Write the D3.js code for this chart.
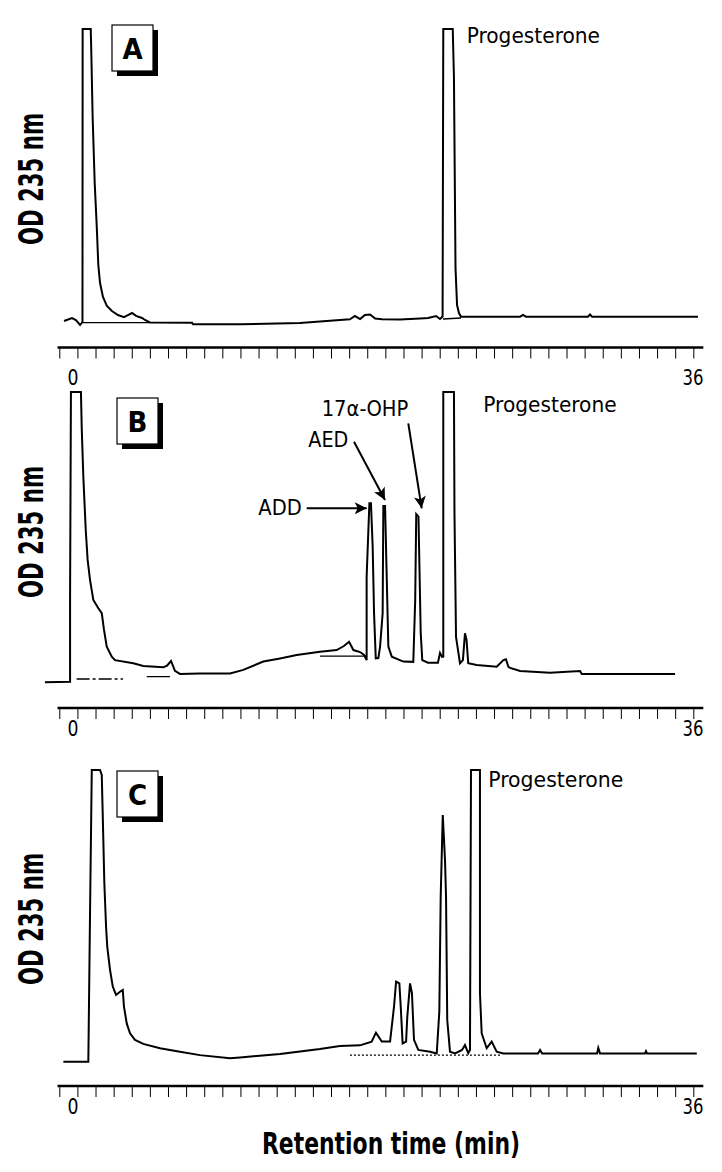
<!DOCTYPE html>
<html><head><meta charset="utf-8">
<script src="https://cdn.jsdelivr.net/npm/d3@7"></script>
<style>body{margin:0;background:#fff}svg{display:block}</style>
</head><body><svg id="c" width="722" height="1172"></svg>
<script>
// ---------- DATA (retention time in min, OD as % of full scale) ----------
const traceA = [[-0.52,-0.34],[-0.06,0.69],[0.17,0],[0.41,-1.72],[0.55,-0.69],[0.56,100],[1.03,100],[1.06,92.8],[1.14,69.8],[1.26,47.1],[1.38,32.0],[1.47,18.9],[1.57,12.7],[1.74,7.9],[1.97,4.8],[2.26,3.1],[2.61,1.7],[2.96,1.0],[3.19,1.7],[3.43,2.4],[3.66,1.4],[4.01,0.7],[4.18,0],[4.47,-0.86],[6.91,-0.93],[6.97,-1.48],[9.70,-1.48],[13.18,-1.03],[15.50,0],[16.08,0.24],[16.37,1.37],[16.67,0.34],[16.95,1.72],[17.25,1.89],[17.54,0.52],[17.94,0.24],[18.99,0.17],[20.15,0.52],[20.62,0.69],[21.08,1.37],[21.31,0.34],[21.46,1.2],[21.50,100],[22.05,100],[22.12,83.2],[22.21,17.9],[22.30,5.15],[22.41,2.4],[22.53,1.13],[25.96,1.13],[26.13,1.72],[26.30,1.13],[29.90,1.13],[30.02,1.89],[30.14,1.13],[36.29,1.13]];
const blankA = [[0.55,-0.93],[4.47,-0.93],null,[21.48,0.34],[22.53,0.69]];

const traceB = [[-1.63,-0.8],[-0.17,-0.6],[-0.17,28.9],[-0.12,100],[0.46,100],[0.51,86.8],[0.60,70.6],[0.74,52.1],[0.85,41.7],[0.99,34.7],[1.18,27.8],[1.47,24.9],[1.67,23.2],[1.80,17.4],[1.96,11.6],[2.25,8.1],[2.44,6.9],[3.50,5.8],[4.08,4.9],[5.24,4.4],[5.46,5.0],[5.69,6.6],[5.92,3.2],[6.21,2.1],[7.37,2.3],[9.12,2.3],[9.89,3.5],[11.05,6.4],[12.02,7.5],[12.99,8.7],[14.34,9.8],[15.31,10.4],[15.73,11.8],[16.03,13.3],[16.28,10.4],[16.67,9.7],[16.90,8.7],[17.05,6.9],[17.05,35.9],[17.21,61.4],[17.30,61.4],[17.40,46.3],[17.48,23.3],[17.58,7.5],[17.73,7.6],[17.83,11.6],[17.98,23.2],[18.02,60.4],[18.12,60.4],[18.22,34.7],[18.31,11.6],[18.51,8.1],[19.18,6.4],[19.76,6.3],[19.87,27.8],[19.93,57.6],[20.06,56.7],[20.19,16.3],[20.28,6.9],[20.61,6.0],[21.19,6.0],[21.31,9.4],[21.43,8.0],[21.50,8.1],[21.50,100],[22.12,100],[22.15,57.9],[22.24,15.0],[22.47,5.8],[22.64,6.9],[22.76,16.2],[22.85,13.9],[22.95,5.8],[23.44,5.2],[24.60,4.6],[24.99,6.9],[25.14,7.2],[25.28,4.6],[25.38,4.2],[25.96,3.1],[27.70,2.5],[29.44,3.1],[29.54,2.1],[34.96,2.1]];
const blankB = [[0.21,0.35],[2.90,0.35]];
const blankB2 = [[4.28,1.15],[5.63,1.15],null,[14.34,8.3],[17.05,8.3]];

const traceC = [[-0.56,-1.3],[0.89,-1.3],[0.99,50.8],[1.09,100],[1.57,100],[1.67,98.3],[1.72,86.1],[1.82,60.7],[1.92,45.6],[1.99,38.6],[2.15,30.6],[2.31,24.8],[2.50,21.9],[2.73,23.0],[2.89,23.6],[2.96,17.8],[3.12,12.0],[3.31,8.6],[3.60,6.3],[4.08,4.9],[5.05,3.4],[6.21,2.2],[7.37,1.0],[9.12,-0.1],[9.70,0.2],[12.02,1.4],[14.34,3.1],[15.50,4.2],[16.67,4.4],[17.34,5.7],[17.59,8.8],[17.93,5.7],[18.41,5.7],[18.64,17.8],[18.76,26.5],[18.95,25.9],[19.03,17.8],[19.14,5.1],[19.34,5.7],[19.41,14.3],[19.57,25.9],[19.68,22.5],[19.80,6.3],[20.05,2.8],[20.73,2.2],[21.12,1.6],[21.27,16.1],[21.35,56.0],[21.47,84.4],[21.60,68.8],[21.66,56.0],[21.73,13.2],[21.89,2.2],[22.18,1.6],[22.59,2.8],[22.76,4.5],[22.95,1.7],[23.05,2.8],[23.11,100],[23.63,100],[23.63,22.5],[23.73,8.6],[24.02,3.4],[24.31,5.7],[24.60,2.2],[24.99,1.6],[27.00,1.6],[27.12,2.8],[27.24,1.6],[30.43,1.6],[30.50,3.5],[30.60,1.6],[33.21,1.6],[33.27,2.4],[33.33,1.6],[36.22,1.6]];
const blankC = [[16.08,1.0],[24.79,1.0]];

const panelLetters = ["A","B","C"];
const tickCount = 36;               // minor ticks drawn on each time axis
const tickLabels = ["0","36"];      // labelled retention times
const tickLabelValues = [0,36];
const yTitle = "OD 235 nm";
const xTitle = "Retention time (min)";

// ---------- LAYOUT ----------
const svg = d3.select("#c");
const x = d3.scaleLinear().domain([0,36]).range([73,693]);
const tickScale = d3.scaleLinear().domain([0,tickCount-1]).range([59.3,693.3]);
const axisExtent = [-0.9,36.6];

const panels = [
  {letter:panelLetters[0], trace:traceA, blanks:[{d:blankA,dash:null}], y:d3.scaleLinear().domain([0,100]).range([320,29]),
   axisY:347.5, labOff:37, box:[112,25], ylabY:179,
   labels:[{t:"Progesterone", px:[466.7,600], py:43}]},
  {letter:panelLetters[1], trace:traceB, blanks:[{d:blankB,dash:"13,3,3,3"},{d:blankB2,dash:null}], y:d3.scaleLinear().domain([0,100]).range([680,392]),
   axisY:708, labOff:28, box:[117,398], ylabY:532,
   labels:[{t:"Progesterone", px:[483.3,616.7], py:412},{t:"17\u03b1-OHP", px:[321.7,408.3], py:416},{t:"AED", px:[308.3,348.3], py:447},{t:"ADD", px:[258.3,301.7], py:515}],
   arrows:[[306.7,508.3,366.7,508.3],[354,441.7,385,500],[408.3,423.3,421.7,508.3]]},
  {letter:panelLetters[2], trace:traceC, blanks:[{d:blankC,dash:"2,2"}], y:d3.scaleLinear().domain([0,100]).range([1058,770]),
   axisY:1086, labOff:28, box:[117,771], ylabY:919,
   labels:[{t:"Progesterone", px:[488.3,623.3], py:787}]}
];

const narrow = "'Liberation Sans Narrow','Arial Narrow','DejaVu Sans Condensed',sans-serif";

svg.append("defs").append("marker").attr("id","ah").attr("viewBox","0 0 10 10")
  .attr("refX",10).attr("refY",5).attr("markerWidth",14).attr("markerHeight",12)
  .attr("markerUnits","userSpaceOnUse").attr("orient","auto")
  .append("path").attr("d","M0,0 L10,5 L0,10 L2.5,5 Z").attr("fill","#000");

panels.forEach(p => {
  const g = svg.append("g");
  const line = d3.line().defined(d => d != null).x(d => x(d[0])).y(d => p.y(d[1]));
  p.blanks.forEach(b => {
    g.append("path").attr("d", line(b.d)).attr("fill","none").attr("stroke","#000")
      .attr("stroke-width",1.3).attr("stroke-dasharray", b.dash);
  });
  g.append("path").attr("d", line(p.trace)).attr("fill","none").attr("stroke","#000")
    .attr("stroke-width",2).attr("stroke-linejoin","miter");

  // axis
  const ax = d3.axisBottom(tickScale).tickValues(d3.range(tickCount)).tickSize(11).tickSizeOuter(0).tickFormat("");
  const ag = g.append("g").attr("transform",`translate(0,${p.axisY})`).call(ax);
  ag.select(".domain").remove();
  ag.selectAll(".tick line").attr("stroke","#000").attr("stroke-width",1);
  ag.append("line").attr("x1",x(axisExtent[0])).attr("x2",x(axisExtent[1])).attr("y1",0).attr("y2",0)
    .attr("stroke","#000").attr("stroke-width",2.5);
  tickLabelValues.forEach((v,i) => {
    ag.append("text").attr("x",x(v)).attr("y",p.labOff).attr("text-anchor","middle")
      .attr("font-family",narrow).attr("font-size",21).attr("fill","#000")
      .attr("textLength",i===0?11:21).attr("lengthAdjust","spacingAndGlyphs").text(tickLabels[i]);
  });

  // letter box
  const [bx,by] = p.box;
  g.append("rect").attr("x",bx+5).attr("y",by+5).attr("width",41).attr("height",46).attr("fill","#000");
  g.append("rect").attr("x",bx).attr("y",by).attr("width",41).attr("height",46).attr("fill","#fff").attr("stroke","#000").attr("stroke-width",1.2);
  g.append("text").attr("x",bx+20.5).attr("y",by+34).attr("text-anchor","middle")
    .attr("font-family",narrow).attr("font-weight","bold").attr("font-size",29).text(p.letter);

  // y title
  g.append("text").attr("transform",`translate(43,${p.ylabY}) rotate(-90)`).attr("text-anchor","middle")
    .attr("font-family",narrow).attr("font-weight","bold").attr("font-size",33)
    .attr("textLength",132).attr("lengthAdjust","spacingAndGlyphs").text(yTitle);

  // annotations
  p.labels.forEach(l => {
    g.append("text").attr("x",l.px[0]).attr("y",l.py).attr("font-family",narrow).attr("font-size",21)
      .attr("textLength",l.px[1]-l.px[0]).attr("lengthAdjust","spacingAndGlyphs").text(l.t);
  });
  (p.arrows||[]).forEach(a => {
    g.append("line").attr("x1",a[0]).attr("y1",a[1]).attr("x2",a[2]).attr("y2",a[3])
      .attr("stroke","#000").attr("stroke-width",2).attr("marker-end","url(#ah)");
  });
});

svg.append("text").attr("x",391).attr("y",1154).attr("text-anchor","middle")
  .attr("font-family",narrow).attr("font-weight","bold").attr("font-size",30)
  .attr("textLength",258).attr("lengthAdjust","spacingAndGlyphs").text(xTitle);
</script></body></html>
